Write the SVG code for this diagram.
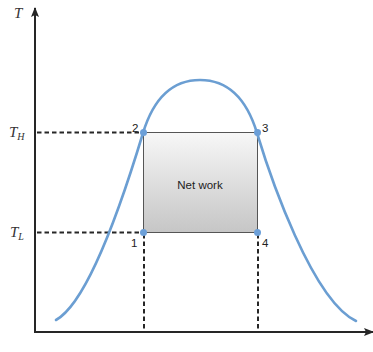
<svg xmlns="http://www.w3.org/2000/svg" width="373" height="352" viewBox="0 0 373 352">
<style>
.axis{stroke:#262626;stroke-width:2;fill:none}
.dash{stroke:#262626;stroke-width:2;stroke-dasharray:4.5 3;fill:none}
.curve{stroke:#6b9ed2;stroke-width:2.6;fill:none;stroke-linecap:round}
.pt{fill:#6b9fd8}
.num{font-family:"Liberation Sans",Arial,sans-serif;font-size:11.5px;fill:#222}
.math{font-family:"Liberation Serif","Times New Roman",serif;font-style:italic;fill:#333}
</style>
<defs>
<linearGradient id="g" x1="0" y1="0" x2="0" y2="1">
<stop offset="0" stop-color="#f7f7f7"/>
<stop offset="1" stop-color="#c6c6c6"/>
</linearGradient>
<marker id="ah" markerWidth="10" markerHeight="10" viewBox="0 0 10 10" refX="9" refY="5" orient="auto" markerUnits="userSpaceOnUse">
<path d="M0,1 L10,5 L0,9 L2,5 Z" fill="#262626"/>
</marker>
</defs>
<rect width="373" height="352" fill="#fff"/>
<g id="work">
<rect x="143.5" y="132.5" width="114" height="100" fill="url(#g)" stroke="#555" stroke-width="1"/>
<text class="num" x="200" y="189" text-anchor="middle">Net work</text>
</g>
<g id="connectors">
<line class="dash" x1="37" y1="132.5" x2="143" y2="132.5"/>
<line class="dash" x1="37" y1="232.5" x2="143" y2="232.5"/>
<line class="dash" x1="144" y1="234" x2="144" y2="331"/>
<line class="dash" x1="258" y1="234" x2="258" y2="331"/>
<path class="curve" d="M56,320 C92,300 130,176 143,133 C150,110 165,80 200,80 C235,80 250,110 257,133 C270,176 312,300 356,321"/>
<line class="axis" x1="35" y1="333" x2="35" y2="8" marker-end="url(#ah)"/>
<line class="axis" x1="34" y1="332" x2="373" y2="332" marker-end="url(#ah)"/>
</g>
<g id="axis-labels">
<text class="math" x="14" y="18" font-size="15">T</text>
<text class="math" x="9" y="137" font-size="15">T<tspan font-size="10" dy="3">H</tspan></text>
<text class="math" x="10" y="237" font-size="15">T<tspan font-size="10" dy="3">L</tspan></text>
</g>
<g id="p2"><circle class="pt" cx="143.5" cy="132.5" r="3.5"/><text class="num" x="132" y="132">2</text></g>
<g id="p3"><circle class="pt" cx="257.5" cy="132.5" r="3.5"/><text class="num" x="262" y="132">3</text></g>
<g id="p1"><circle class="pt" cx="143.5" cy="232.5" r="3.5"/><text class="num" x="131" y="247">1</text></g>
<g id="p4"><circle class="pt" cx="257.5" cy="232.5" r="3.5"/><text class="num" x="262" y="247">4</text></g>
</svg>
